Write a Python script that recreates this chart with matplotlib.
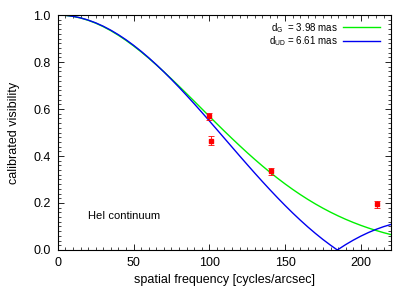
import matplotlib
matplotlib.use("Agg")
import matplotlib.pyplot as plt
from matplotlib.ticker import MultipleLocator

plt.rcParams['font.family'] = ['Liberation Sans', 'DejaVu Sans']
plt.rcParams['mathtext.default'] = 'regular'

# measured visibilities
obs_freq = [99.5, 101, 141, 211]
obs_vis = [0.570, 0.465, 0.335, 0.195]
obs_err = [0.015, 0.020, 0.015, 0.015]

# model curves
freq = [0, 5, 10, 15, 20, 25, 30, 35, 40, 45, 50, 55, 60, 65, 70, 75, 80, 85, 90, 95,
        100, 105, 110, 115, 120, 125, 130, 135, 140, 145, 150, 155, 160, 165, 170, 175,
        180, 185, 190, 195, 200, 205, 210, 215, 220]
vis_gauss = [1.0, 0.9986, 0.9944, 0.9874, 0.9777, 0.9654, 0.9505, 0.9333, 0.9137, 0.8921,
             0.8685, 0.8432, 0.8163, 0.7880, 0.7586, 0.7282, 0.6971, 0.6654, 0.6334, 0.6012,
             0.5690, 0.5371, 0.5054, 0.4744, 0.4440, 0.4143, 0.3856, 0.3578, 0.3311, 0.3056,
             0.2812, 0.2580, 0.2361, 0.2154, 0.1960, 0.1778, 0.1609, 0.1452, 0.1306, 0.1172,
             0.1048, 0.0935, 0.0832, 0.0738, 0.0653]
freq_ud = [0, 5, 10, 15, 20, 25, 30, 35, 40, 45, 50, 55, 60, 65, 70, 75, 80, 85, 90, 95,
           100, 105, 110, 115, 120, 125, 130, 135, 140, 145, 150, 155, 160, 165, 170, 175,
           180, 184.5, 185, 190, 195, 200, 205, 210, 215, 220]
vis_ud = [1.0, 0.9987, 0.9946, 0.9879, 0.9786, 0.9667, 0.9523, 0.9354, 0.9162, 0.8948,
          0.8712, 0.8456, 0.8181, 0.7889, 0.7581, 0.7259, 0.6925, 0.6580, 0.6225, 0.5863,
          0.5496, 0.5125, 0.4751, 0.4378, 0.4005, 0.3637, 0.3272, 0.2915, 0.2565, 0.2225,
          0.1895, 0.1577, 0.1273, 0.0982, 0.0707, 0.0447, 0.0205, 0.0, 0.0021, 0.0229,
          0.0418, 0.0589, 0.0742, 0.0876, 0.0992, 0.1089]

labels = ['d$_{G}$  = 3.98 mas', 'd$_{UD}$ = 6.61 mas']

fig = plt.figure(figsize=(4.13, 2.89), dpi=100)
ax = fig.add_axes([0.140, 0.135, 0.807, 0.813])

ax.plot(freq, vis_gauss, color='#00f000', lw=1.0, label=labels[0])
ax.plot(freq_ud, vis_ud, color='#0000f0', lw=1.0, label=labels[1])
ax.errorbar(obs_freq, obs_vis, yerr=obs_err, fmt='s', color='red', ms=3.5,
            elinewidth=0.6, capsize=2, capthick=0.6, zorder=5)

ax.set_xlim(0, 220)
ax.set_ylim(0, 1.0)
ax.xaxis.set_major_locator(MultipleLocator(50))
ax.xaxis.set_minor_locator(MultipleLocator(5))
ax.yaxis.set_major_locator(MultipleLocator(0.2))
ax.yaxis.set_minor_locator(MultipleLocator(0.02))
ax.yaxis.set_major_formatter(plt.FuncFormatter(lambda v, p: '%.1f' % v))
ax.tick_params(which='both', direction='in', top=True, right=True, labelsize=9)
ax.tick_params(which='major', length=4, width=0.6, pad=5)
ax.tick_params(which='minor', length=2.2, width=0.5)
for s in ax.spines.values():
    s.set_linewidth(0.8)

ax.set_xlabel('spatial frequency [cycles/arcsec]', fontsize=9, labelpad=4)
ax.set_ylabel('calibrated visibility', fontsize=9, labelpad=10)
ax.text(20, 0.145, 'HeI continuum', fontsize=8, va='center')

ax.legend(loc='upper right', markerfirst=False, frameon=False, fontsize=7,
          handlelength=3.8, handletextpad=0.6, labelspacing=0.0,
          borderaxespad=0.2, bbox_to_anchor=(0.985, 1.0))

fig.savefig('out.png', dpi=100)
